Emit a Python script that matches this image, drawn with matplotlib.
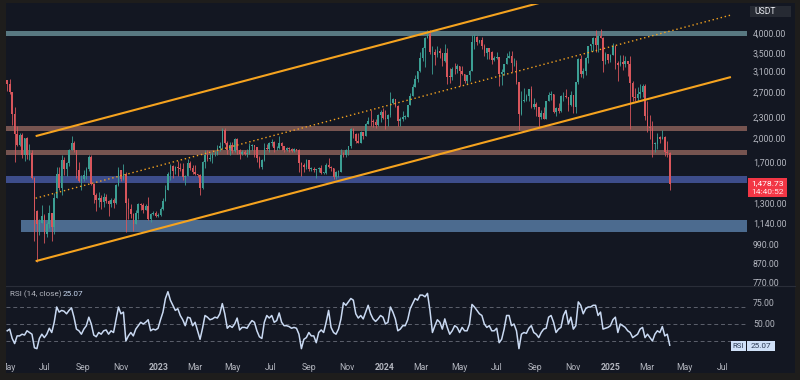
import numpy as np
import pandas as pd
import matplotlib
matplotlib.use('Agg')
import matplotlib.pyplot as plt
import matplotlib.dates as mdates
from matplotlib.patches import Rectangle
from matplotlib.ticker import FixedLocator, NullLocator, FuncFormatter

plt.rcParams['font.family'] = ['Roboto', 'DejaVu Sans']

# ---------------- data ----------------
start_date = '2022-04-29'
candle_days = 4
first_open = 2935

close = [2860, 2700, 2340, 2050, 1910, 2040, 1790, 1995, 1780, 1810,
         1530, 1230, 1130, 1140, 1190, 1060, 1130, 1215, 1110, 1340,
         1580, 1440, 1730, 1630, 1690, 1850, 1935, 1840, 1620, 1500,
         1520, 1560, 1630, 1760, 1470, 1370, 1330, 1340, 1310, 1350,
         1320, 1290, 1330, 1300, 1460, 1620, 1520, 1570, 1300, 1250,
         1210, 1130, 1220, 1295, 1280, 1240, 1275, 1170, 1210, 1220,
         1190, 1200, 1250, 1320, 1420, 1570, 1660, 1610, 1650, 1640,
         1630, 1545, 1555, 1690, 1640, 1600, 1570, 1565, 1440, 1700,
         1780, 1735, 1750, 1795, 1800, 1865, 1890, 2100, 1935, 1850,
         1910, 1830, 1990, 1850, 1800, 1825, 1800, 1805, 1890, 1905,
         1880, 1750, 1650, 1725, 1870, 1860, 1935, 1950, 1865, 1870,
         1930, 1890, 1850, 1870, 1860, 1835, 1855, 1845, 1690, 1670,
         1650, 1730, 1630, 1630, 1615, 1625, 1640, 1590, 1590, 1670,
         1650, 1635, 1540, 1600, 1600, 1790, 1780, 1850, 1895, 2120,
         2050, 1960, 1935, 2080, 2030, 2190, 2235, 2230, 2220, 2180,
         2320, 2380, 2280, 2270, 2330, 2520, 2590, 2470, 2230, 2260,
         2300, 2300, 2480, 2640, 2800, 2960, 3110, 3380, 3630, 3880,
         3980, 3520, 3520, 3450, 3560, 3500, 3320, 3500, 3000, 2990,
         3160, 3150, 3210, 3110, 3050, 2910, 3030, 3120, 3780, 3890,
         3760, 3810, 3680, 3500, 3620, 3520, 3350, 3380, 3420, 3060,
         3100, 3250, 3400, 3440, 3270, 3280, 2900, 2340, 2560, 2570,
         2640, 2770, 2460, 2510, 2450, 2300, 2360, 2270, 2560, 2650,
         2680, 2370, 2440, 2390, 2630, 2640, 2620, 2480, 2660, 2460,
         2890, 3370, 3050, 3110, 3390, 3660, 3710, 3860, 3700, 3910,
         3880, 3330, 3490, 3350, 3450, 3680, 3270, 3230, 3300, 3260,
         3320, 3250, 2880, 2620, 2600, 2680, 2710, 2820, 2310, 2150,
         2140, 1920, 1920, 2010, 1980, 2010, 1820, 1810, 1478.73]

high = [2940, 2960, 2710, 2450, 2160, 2060, 2070, 2000, 2010, 1920,
        1850, 1540, 1240, 1170, 1280, 1210, 1150, 1280, 1220, 1390,
        1650, 1650, 1780, 1760, 1700, 1860, 2020, 1960, 1840, 1700,
        1560, 1620, 1650, 1790, 1790, 1480, 1390, 1400, 1370, 1390,
        1380, 1330, 1340, 1340, 1470, 1650, 1620, 1680, 1600, 1340,
        1290, 1220, 1240, 1300, 1300, 1300, 1290, 1350, 1220, 1230,
        1230, 1220, 1270, 1340, 1460, 1600, 1680, 1670, 1660, 1715,
        1690, 1690, 1560, 1740, 1720, 1670, 1670, 1575, 1570, 1720,
        1840, 1840, 1810, 1820, 1830, 1910, 1940, 2130, 2140, 1960,
        1950, 1950, 1995, 2000, 1860, 1840, 1840, 1860, 1930, 1920,
        1910, 1880, 1775, 1740, 1930, 1915, 1940, 1990, 1960, 1900,
        2025, 1950, 1900, 1880, 1880, 1870, 1870, 1860, 1860, 1700,
        1690, 1740, 1730, 1650, 1650, 1630, 1650, 1670, 1600, 1690,
        1750, 1660, 1640, 1605, 1620, 1860, 1820, 1860, 1900, 2140,
        2140, 2060, 2070, 2090, 2080, 2200, 2300, 2400, 2270, 2260,
        2340, 2400, 2440, 2400, 2340, 2715, 2610, 2590, 2480, 2290,
        2390, 2330, 2490, 2690, 2860, 3030, 3115, 3520, 3640, 3900,
        4090, 4080, 3680, 3590, 3670, 3620, 3510, 3730, 3620, 3180,
        3190, 3290, 3260, 3220, 3220, 3050, 3040, 3130, 3950, 3980,
        3930, 3830, 3890, 3720, 3630, 3630, 3560, 3430, 3520, 3420,
        3150, 3260, 3510, 3560, 3540, 3400, 3350, 2900, 2720, 2790,
        2680, 2770, 2820, 2600, 2530, 2460, 2400, 2460, 2560, 2700,
        2730, 2680, 2460, 2520, 2650, 2700, 2770, 2620, 2720, 2660,
        2900, 3380, 3450, 3180, 3420, 3680, 3730, 3900, 4090, 3950,
        4110, 3890, 3530, 3470, 3480, 3740, 3700, 3320, 3450, 3450,
        3430, 3320, 3440, 2920, 2790, 2800, 2850, 2850, 2850, 2550,
        2320, 2230, 1950, 2060, 2020, 2100, 2020, 1960, 1820]

low = [2720, 2670, 2180, 1700, 1900, 1900, 1750, 1720, 1740, 1730,
       1520, 1010, 880, 1050, 1140, 1000, 1040, 1100, 1010, 1060,
       1340, 1420, 1370, 1560, 1550, 1660, 1850, 1820, 1530, 1490,
       1420, 1500, 1520, 1610, 1460, 1300, 1230, 1270, 1250, 1270,
       1300, 1190, 1270, 1260, 1290, 1450, 1500, 1510, 1075, 1170,
       1180, 1080, 1130, 1170, 1240, 1220, 1240, 1160, 1150, 1200,
       1185, 1185, 1190, 1240, 1320, 1420, 1510, 1530, 1570, 1550,
       1610, 1510, 1460, 1550, 1620, 1570, 1560, 1540, 1370, 1430,
       1640, 1720, 1720, 1690, 1770, 1780, 1830, 1860, 1920, 1800,
       1790, 1810, 1820, 1800, 1740, 1790, 1790, 1760, 1800, 1850,
       1760, 1700, 1640, 1630, 1720, 1840, 1820, 1900, 1820, 1850,
       1860, 1850, 1820, 1830, 1820, 1820, 1820, 1835, 1600, 1550,
       1600, 1630, 1610, 1610, 1600, 1530, 1600, 1580, 1570, 1580,
       1640, 1610, 1520, 1520, 1540, 1600, 1760, 1760, 1780, 1870,
       2000, 1930, 1930, 1930, 1980, 2030, 2190, 2160, 2150, 2130,
       2170, 2220, 2270, 2120, 2170, 2300, 2500, 2450, 2170, 2170,
       2240, 2270, 2290, 2480, 2640, 2830, 2900, 3100, 3330, 3200,
       3860, 3480, 3060, 3230, 3420, 3400, 3210, 3310, 2850, 2870,
       2930, 3050, 3070, 2810, 3040, 2880, 2860, 2920, 3110, 3600,
       3700, 3740, 3600, 3440, 3360, 3360, 3250, 3330, 3360, 2810,
       2830, 3040, 3250, 3390, 3090, 3220, 2850, 2110, 2320, 2540,
       2560, 2550, 2440, 2420, 2310, 2150, 2270, 2260, 2260, 2550,
       2570, 2360, 2310, 2360, 2380, 2550, 2600, 2390, 2470, 2360,
       2360, 2850, 3000, 2980, 3030, 3280, 3550, 3550, 3520, 3520,
       3860, 3100, 3250, 3290, 3310, 3450, 3160, 2910, 3210, 3140,
       3200, 3020, 2120, 2550, 2550, 2560, 2600, 2620, 2250, 2080,
       1990, 1760, 1820, 1860, 1930, 1980, 1770, 1760, 1420]

rsi = [42, 44, 33, 27, 36, 36, 38, 37, 42, 40,
       38, 22, 21, 33, 38, 34, 38, 45, 40, 52,
       70, 64, 66, 65, 62, 66, 69, 58, 44, 42,
       38, 44, 48, 58, 50, 37, 35, 40, 38, 42,
       43, 38, 42, 40, 55, 70, 62, 64, 30, 36,
       40, 36, 44, 48, 52, 50, 52, 55, 42, 44,
       43, 45, 55, 64, 80, 88, 78, 72, 66, 68,
       60, 55, 48, 58, 57, 48, 52, 42, 32, 45,
       60, 58, 55, 56, 58, 57, 62, 74, 62, 45,
       48, 46, 50, 57, 43, 46, 46, 45, 50, 54,
       52, 42, 35, 33, 52, 60, 57, 60, 52, 54,
       63, 52, 48, 48, 47, 45, 46, 45, 38, 21,
       32, 34, 40, 36, 36, 28, 40, 43, 40, 52,
       66, 46, 40, 38, 44, 56, 75, 72, 76, 80,
       78, 62, 57, 60, 56, 64, 72, 62, 56, 53,
       56, 60, 58, 50, 52, 70, 64, 56, 42, 44,
       48, 48, 55, 68, 74, 80, 78, 84, 84, 82,
       86, 66, 40, 48, 55, 52, 44, 56, 46, 38,
       42, 48, 46, 40, 46, 42, 42, 50, 73, 70,
       66, 62, 60, 50, 46, 48, 42, 42, 45, 28,
       32, 44, 60, 60, 48, 50, 42, 21, 38, 40,
       39, 45, 48, 40, 38, 34, 40, 44, 45, 58,
       60, 52, 40, 44, 46, 60, 66, 50, 58, 44,
       48, 76, 72, 62, 68, 70, 70, 72, 72, 60,
       64, 44, 45, 46, 48, 55, 58, 40, 50, 48,
       46, 42, 40, 34, 36, 38, 44, 46, 34, 38,
       34, 30, 38, 42, 40, 47, 36, 38, 25.07]

# horizontal zones (price ranges) and the date each starts
zone_lo = [3930, 2092, 1783, 1483, 1071]
zone_hi = [4053, 2162, 1844, 1553, 1160]
zone_from = ['2022-04-29', '2022-04-29', '2022-04-29', '2022-04-29', '2022-05-23']

# channel lines (date, price) end points
channel_upper_dates = ['2022-06-16', '2024-09-14']
channel_upper_prices = [2023, 4913]
channel_lower_dates = ['2022-06-16', '2025-07-15']
channel_lower_prices = [885, 2990]
channel_mid_dates = ['2022-06-16', '2025-07-15']
channel_mid_prices = [1342, 4505]

price_ticks = [770, 870, 990, 1140, 1300, 1700, 2000, 2300, 2700, 3100, 3500, 4000]
rsi_ticks = [50, 75]
rsi_levels = [70, 50, 30]
last_price = 1478.73
countdown = '14:40:52'
rsi_last = 25.07
x_start, x_end = '2022-04-29', '2025-08-10'

# ---------------- style ----------------
BG = '#131722'
FRAME = '#1e1d1c'
TXT = '#b2b5be'
UP, DN = '#3c9f94', '#d8565c'
ORANGE = '#f5a31f'
zone_colors = ['#587881', '#765450', '#765450', '#3d4d8b', '#4c6b8f']

W, H = 800, 380
def fbox(x0, y0, x1, y1):
    return [x0 / W, 1 - y1 / H, (x1 - x0) / W, (y1 - y0) / H]

fig = plt.figure(figsize=(8, 3.8), dpi=100)
fig.patch.set_facecolor(FRAME)
fig.add_artist(Rectangle((6 / W, 1 - 373 / H), 789 / W, 370 / H,
                         transform=fig.transFigure, facecolor=BG,
                         edgecolor='none', zorder=-5))

ax = fig.add_axes(fbox(6, 4, 747, 285))
axr = fig.add_axes(fbox(6, 286, 747, 358), sharex=ax)
for a in (ax, axr):
    a.set_facecolor('none')
    for s in a.spines.values():
        s.set_visible(False)

n = min(len(close), len(high), len(low), len(rsi))
c = np.array(close[:n], float)
h = np.array(high[:n], float)
l = np.array(low[:n], float)
o = np.r_[first_open, c[:-1]]
h = np.maximum(h, np.maximum(o, c))
l = np.minimum(l, np.minimum(o, c))
dates = pd.date_range(start_date, periods=n, freq=f'{candle_days}D')
xc = mdates.date2num(dates) + candle_days / 2
up = c >= o
col = np.where(up, UP, DN)

ax.set_yscale('log')
xl = mdates.date2num(pd.to_datetime([x_start, x_end]))
ax.set_xlim(xl[0], xl[1])
ax.set_ylim(756, 4846)

# zones
for lo, hi, fr, zc in zip(zone_lo, zone_hi, zone_from, zone_colors):
    x0 = mdates.date2num(pd.Timestamp(fr))
    ax.fill_between([x0, xl[1]], lo, hi, color=zc, lw=0, zorder=1)

# candles
ax.vlines(xc, l, h, colors=col, lw=0.6, zorder=2)
body_lo = np.minimum(o, c)
body_h = np.maximum(np.abs(c - o), 0.004 * c)
ax.bar(xc, body_h, bottom=body_lo, width=2.6, color=col, lw=0, zorder=2)

# channel
def dn(ds):
    return mdates.date2num(pd.to_datetime(ds))
ax.plot(dn(channel_upper_dates), channel_upper_prices, color=ORANGE, lw=1.5,
        zorder=3, solid_capstyle='butt')
ax.plot(dn(channel_lower_dates), channel_lower_prices, color=ORANGE, lw=1.5,
        zorder=3, solid_capstyle='butt')
ax.plot(dn(channel_mid_dates), channel_mid_prices, color=ORANGE, lw=1.0,
        ls=(0, (1, 2.0)), zorder=3)

# price axis
ax.yaxis.tick_right()
ax.yaxis.set_major_locator(FixedLocator(price_ticks))
ax.yaxis.set_minor_locator(NullLocator())
ax.yaxis.set_major_formatter(FuncFormatter(lambda v, _: f'{v:,.2f}'))
ax.yaxis.set_minor_formatter(FuncFormatter(lambda v, _: ''))
ax.tick_params(axis='y', length=0, pad=4.3, labelsize=6.3, labelcolor=TXT)
ax.tick_params(axis='x', length=0, labelbottom=False)

# RSI
axr.set_ylim(10, 94.7)
for lv in rsi_levels:
    axr.axhline(lv, color='#5d616d', lw=0.7, ls=(0, (4, 3)), zorder=1)
axr.plot(xc, rsi[:n], color='#c9d9f2', lw=1.1, zorder=3)
axr.yaxis.tick_right()
axr.yaxis.set_major_locator(FixedLocator(rsi_ticks))
axr.yaxis.set_major_formatter(FuncFormatter(lambda v, _: f'{v:.2f}'))
axr.tick_params(axis='y', length=0, pad=4.3, labelsize=6.3, labelcolor=TXT)

months = pd.date_range('2022-05-01', '2025-07-01', freq='2MS')
labels = [str(d.year) if d.month == 1 else d.strftime('%b') for d in months]
axr.xaxis.set_major_locator(FixedLocator(mdates.date2num(months)))
axr.set_xticklabels(labels)
axr.tick_params(axis='x', length=0, pad=3.3, labelsize=6.2, labelcolor=TXT)
for t, d in zip(axr.get_xticklabels(), months):
    if d.month == 1:
        t.set_fontweight('bold')

# separator between panes
fig.add_artist(plt.Line2D([6 / W, 795 / W], [1 - 285.5 / H] * 2,
                          transform=fig.transFigure, color='#2a2e39', lw=0.8))

# frame overlay (clips labels at the left edge)
fig.add_artist(Rectangle((0, 0), 6 / W, 1, transform=fig.transFigure,
                         facecolor=FRAME, edgecolor='none', zorder=20))

# USDT box
fig.add_artist(Rectangle((750 / W, 1 - 17 / H), 41 / W, 11 / H,
                         transform=fig.transFigure, facecolor='#262a33',
                         edgecolor='none', zorder=6))
fig.text(754 / W, 1 - 11.5 / H, 'USDT', color='#e6e8ee', fontsize=6.2,
         va='center', ha='left', zorder=7)

# last price label
fig.add_artist(Rectangle((748 / W, 1 - 197 / H), 39 / W, 19 / H,
                         transform=fig.transFigure, facecolor='#f23645',
                         edgecolor='none', zorder=6))
fig.text(751 / W, 1 - 183 / H, f'{last_price:,.2f}', color='white',
         fontsize=6.1, va='center', ha='left', zorder=7)
fig.text(751 / W, 1 - 192 / H, countdown, color='#ffe3e5',
         fontsize=6.1, va='center', ha='left', zorder=7)

# RSI legend texts
fig.text(10 / W, 1 - 294.5 / H, 'RSI (14, close)', color=TXT, fontsize=5.9,
         va='center', ha='left')
fig.text(63 / W, 1 - 294.5 / H, f'{rsi_last:.2f}', color='#c9d9f2', fontsize=5.9,
         va='center', ha='left')

# RSI value tags
fig.add_artist(Rectangle((731 / W, 1 - 351 / H), 15 / W, 10 / H,
                         transform=fig.transFigure, facecolor='#cfe0f7',
                         edgecolor='none', zorder=6))
fig.text(738.5 / W, 1 - 346 / H, 'RSI', color='#2b3a55', fontsize=5.6,
         va='center', ha='center', zorder=7)
fig.add_artist(Rectangle((747 / W, 1 - 351 / H), 28 / W, 10 / H,
                         transform=fig.transFigure, facecolor='#cfe0f7',
                         edgecolor='none', zorder=6))
fig.text(761 / W, 1 - 346 / H, f'{rsi_last:.2f}', color='#2b3a55', fontsize=5.9,
         va='center', ha='center', zorder=7)

fig.savefig('out.png', dpi=100, facecolor=fig.get_facecolor())
